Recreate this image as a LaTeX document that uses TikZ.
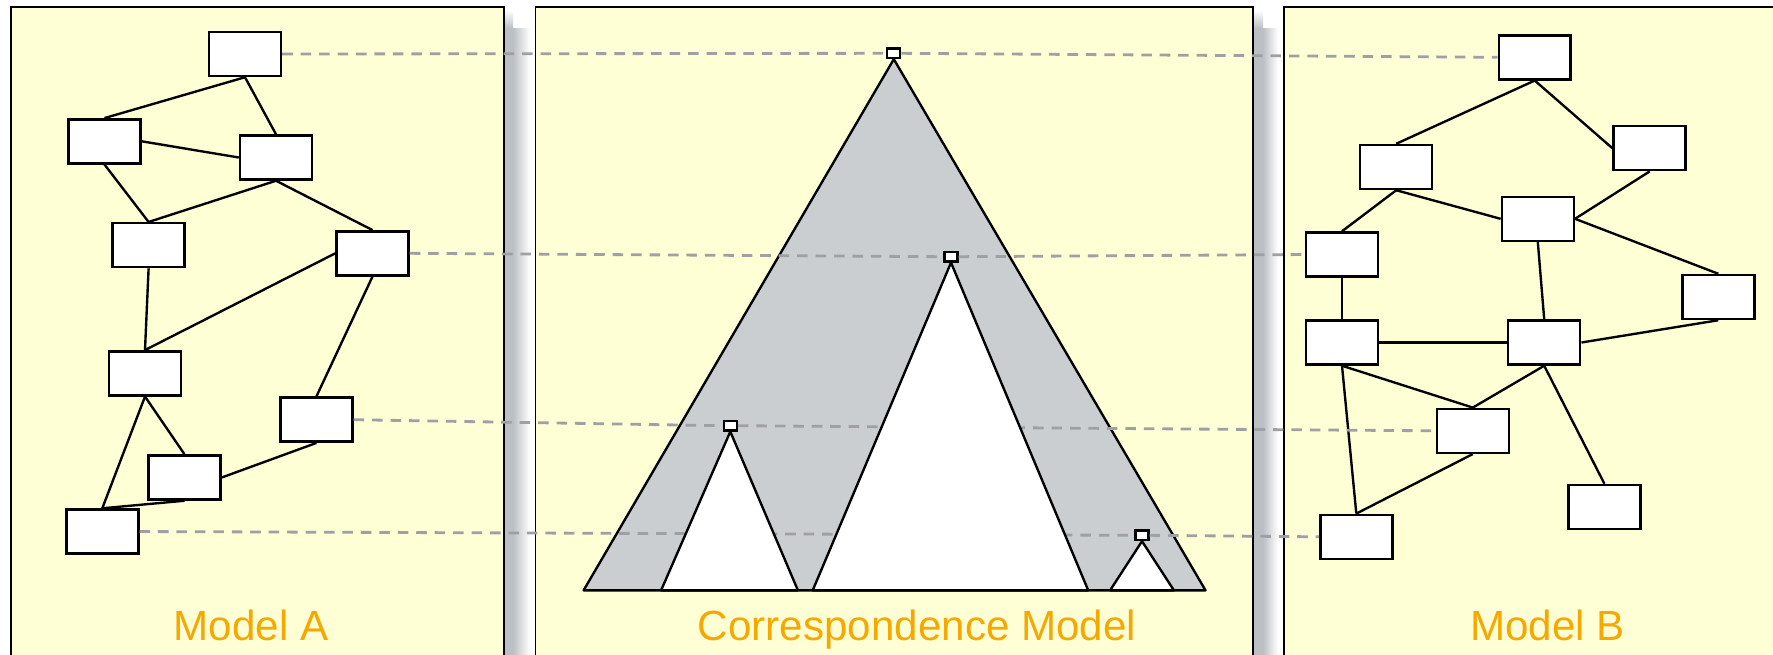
\documentclass[tikz,border=0pt]{standalone}
\usepackage{fontspec}
\setsansfont{Liberation Sans}
\usepackage{tikz}
\usetikzlibrary{positioning, calc}
\definecolor{panelYellow}{HTML}{FFFFD5}
\definecolor{treeGray}{HTML}{CBCED1}
\definecolor{shadowGray}{HTML}{BCC0C4}
\definecolor{corrGray}{HTML}{9EA0A3}
\definecolor{modelOrange}{HTML}{F5A800}

\begin{document}
\begin{tikzpicture}[
  x=0.02cm, y=-0.02cm,
  every node/.style={font=\sffamily},
  panel/.style={fill=panelYellow, draw=black, line width=1pt},
  elem/.style={
    draw=black, fill=white, line width=1.4pt,
    minimum width=1.44cm, minimum height=0.88cm, inner sep=0pt
  },
  tipbox/.style={
    draw=black, fill=white, line width=1.3pt,
    minimum width=0.26cm, minimum height=0.19cm, inner sep=0pt
  },
  conn/.style={black, line width=1.35pt},
  corr/.style={corrGray, line width=1.6pt, dash pattern=on 6pt off 4.5pt},
  subtree/.style={draw=black, line width=1.35pt, line join=round},
  modelname/.style={
    font=\sffamily\fontsize{24}{28}\selectfont, text=modelOrange, anchor=base
  },
]
\useasboundingbox (0,0) rectangle (1773,654);
\clip (0,0) rectangle (1773,654);

% === PANELS ===
\shade[top color=white, bottom color=shadowGray] (504,10) rectangle (513,28);
\fill[shadowGray] (504,28) rectangle (513,660);
\shade[left color=shadowGray, right color=white] (513,28) rectangle (530,660);
\shade[top color=white, bottom color=shadowGray] (1253,10) rectangle (1263,28);
\fill[shadowGray] (1253,28) rectangle (1263,660);
\shade[left color=shadowGray, right color=white] (1263,28) rectangle (1278,660);

\draw[panel] (10.7,6.7) rectangle (504.3,700);
\draw[panel] (535.5,6.7) rectangle (1253,700);
\draw[panel] (1284.2,6.7) rectangle (1800,700);

\node[modelname] (titleA) at (251,640) {Model A};
\node[modelname] (titleC) at (917,640) {Correspondence Model};
\node[modelname] (titleB) at (1547.6,640) {Model B};

% === CORRESPONDENCE TREE ===
\node[tipbox] (r0) at (893.8,53.3) {};
\draw[subtree, fill=treeGray] (r0.south) -- (583.6,590.3) -- (1205.5,590.3) -- cycle;

\node[tipbox] (s1) at (951,256.7) {};
\node[tipbox] (s2) at (730.3,425.7) {};
\node[tipbox] (s3) at (1142,535.3) {};

% === MODEL A ===
\node[elem] (a1) at (245,54) {};
\node[elem] (a2) at (104.5,141.3) {};
\node[elem] (a3) at (276,157.5) {};
\node[elem] (a4) at (148.6,245.2) {};
\node[elem] (a5) at (372.5,253.3) {};
\node[elem] (a6) at (145,373.3) {};
\node[elem] (a7) at (316.4,419.7) {};
\node[elem] (a8) at (184.5,477.5) {};
\node[elem] (a9) at (102.3,531.5) {};

\foreach \u/\v in {a1.south/a2.north, a1.south/a3.north, a2.east/a3.west,
                   a2.south/a4.north, a3.south/a4.north, a3.south/a5.north,
                   a5.west/a6.north, a4.south/a6.north, a5.south/a7.north,
                   a6.south/a8.north, a6.south/a9.north, a7.south/a8.east,
                   a8.south/a9.north} {
  \draw[conn] (\u) -- (\v);
}

% === MODEL B ===
\node[elem] (b1) at (1534.7,57.3) {};
\node[elem] (b2) at (1396.2,167) {};
\node[elem] (b3) at (1649.6,148.2) {};
\node[elem] (b4) at (1537.8,218.8) {};
\node[elem] (b5) at (1342,254.5) {};
\node[elem] (b6) at (1718.3,297) {};
\node[elem] (b7) at (1342,342.5) {};
\node[elem] (b8) at (1544.2,342.5) {};
\node[elem] (b9) at (1472.8,430.8) {};
\node[elem] (b10) at (1604.4,507) {};
\node[elem] (b11) at (1356.3,536.8) {};

\foreach \u/\v in {b1.south/b2.north, b1.south/b3.west, b2.south/b5.north,
                   b2.south/b4.west, b3.south/b4.east, b4.east/b6.north,
                   b4.south/b8.north, b5.south/b7.north, b7.east/b8.west,
                   b8.east/b6.south, b7.south/b9.north, b8.south/b9.north,
                   b8.south/b10.north, b7.south/b11.north, b9.south/b11.north} {
  \draw[conn] (\u) -- (\v);
}

% Correspondences (A -> tree -> B)
\foreach \a/\s/\b in {a1/r0/b1, a5/s1/b5, a7/s2/b9, a9/s3/b11} {
  \draw[corr] (\a.east) -- (\s.west);
  \draw[corr] (\s.east) -- (\b.west);
}

% Subtrees
\draw[subtree, fill=white] (s2.south) -- (661.1,590.3) -- (797.9,590.3) -- cycle;
\draw[subtree, fill=white] (s1.south) -- (812.7,590.3) -- (1088.2,590.3) -- cycle;
\draw[subtree, fill=white] (s3.south) -- (1110.1,590.3) -- (1173.9,590.3) -- cycle;

\end{tikzpicture}
\end{document}
